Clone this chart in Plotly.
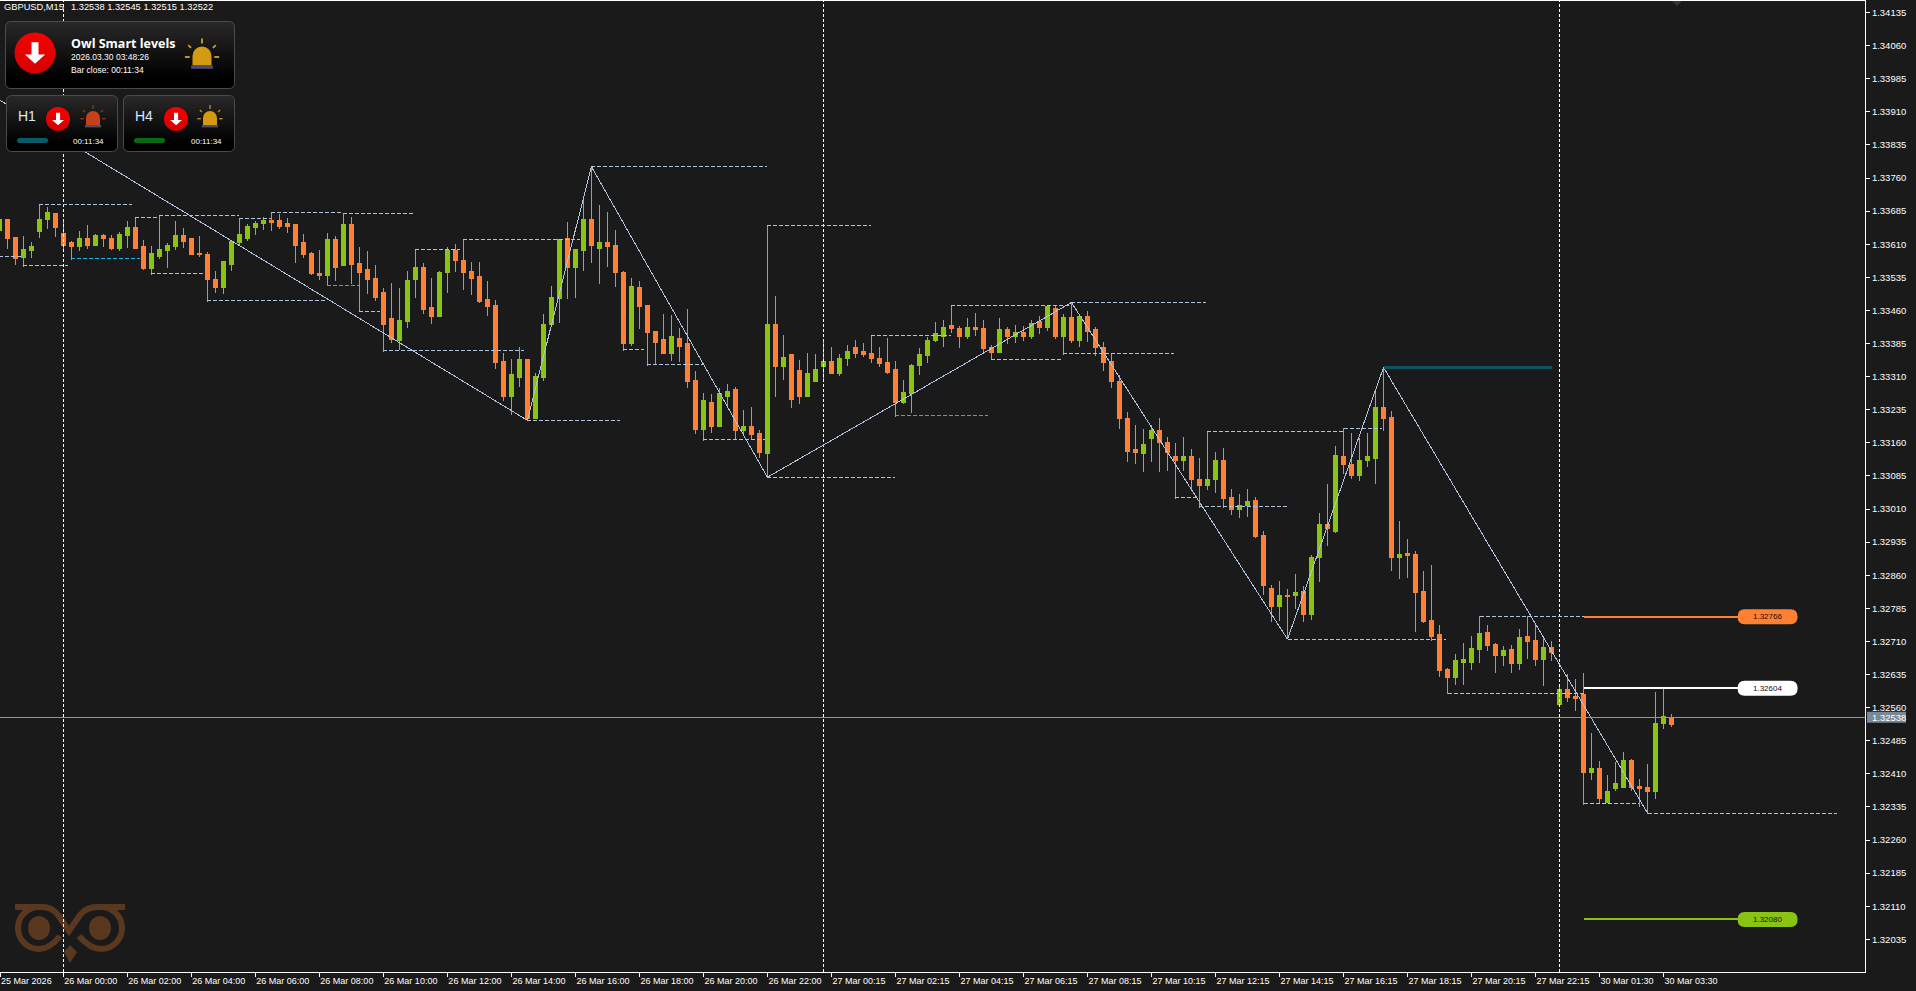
import base64
import plotly.graph_objects as go

BG = "#1A1A1A"
UP = "#8AC413"
DOWN = "#FF8033"
LEVEL = "#B0C4DE"
CYAN = "#1EB4E6"
SANS = "Liberation Sans, Arial"

W, H = 1916, 991
PL, PR, PT, PB = 0, 1865, 1, 972

bar_first = -8
bar_last = 201

opens = [
1.33641,1.33667,1.33626,1.33579,1.33595,1.33638,1.33665,1.33679,1.33635,1.33613,
1.33604,1.33622,1.33608,1.33629,1.33624,1.33601,1.33629,1.33647,1.33604,1.33554,
1.33583,1.33595,1.33604,1.33629,1.33624,1.33588,1.33586,1.33531,1.33513,1.33563,
1.33615,1.33622,1.33647,1.33656,1.33663,1.33663,1.33656,1.33654,1.33613,1.33588,
1.33543,1.33538,1.33620,1.33561,1.33654,1.33567,1.33552,1.33533,1.33500,1.33441,
1.33391,1.33436,1.33531,1.33558,1.33466,1.33447,1.33545,1.33595,1.33574,1.33549,
1.33536,1.33484,1.33472,1.33345,1.33266,1.33309,1.33348,1.33214,1.33309,1.33427,
1.33486,1.33622,1.33558,1.33595,1.33665,1.33601,1.33615,1.33608,1.33545,1.33386,
1.33513,1.33472,1.33413,1.33393,1.33363,1.33397,1.33384,1.33302,1.33191,1.33252,
1.33196,1.33266,1.33280,1.33187,1.33196,1.33180,1.33135,1.33429,1.33334,1.33359,
1.33323,1.33266,1.33300,1.33332,1.33345,1.33316,1.33350,1.33377,1.33366,1.33363,
1.33352,1.33341,1.33325,1.33252,1.33271,1.33336,1.33357,1.33391,1.33402,1.33425,
1.33420,1.33402,1.33422,1.33418,1.33375,1.33364,1.33416,1.33402,1.33409,1.33400,
1.33434,1.33422,1.33465,1.33402,1.33445,1.33391,1.33447,1.33416,1.33377,1.33345,
1.33300,1.33214,1.33144,1.33135,1.33169,1.33187,1.33160,1.33130,1.33119,1.33128,
1.33078,1.33064,1.33078,1.33121,1.33035,1.33010,1.33017,1.33030,1.32949,1.32831,
1.32788,1.32815,1.32815,1.32824,1.32772,1.32899,1.32976,1.32958,1.33130,1.33110,
1.33085,1.33119,1.33125,1.33239,1.33218,1.32901,1.32910,1.32906,1.32822,1.32758,
1.32725,1.32647,1.32629,1.32663,1.32663,1.32691,1.32731,1.32702,1.32679,1.32691,
1.32661,1.32720,1.32713,1.32670,1.32697,1.32568,1.32600,1.32586,1.32589,1.32412,
1.32421,1.32344,1.32376,1.32380,1.32441,1.32382,1.32378,1.32371,1.32523,1.32538,
]
highs = [
1.33665,1.33667,1.33626,1.33629,1.33615,1.33700,1.33694,1.33681,1.33665,1.33617,
1.33640,1.33654,1.33633,1.33633,1.33631,1.33638,1.33663,1.33672,1.33620,1.33606,
1.33676,1.33613,1.33663,1.33647,1.33624,1.33629,1.33592,1.33549,1.33570,1.33620,
1.33669,1.33656,1.33663,1.33672,1.33683,1.33679,1.33669,1.33654,1.33633,1.33592,
1.33597,1.33635,1.33629,1.33681,1.33672,1.33604,1.33595,1.33563,1.33511,1.33522,
1.33511,1.33549,1.33599,1.33567,1.33533,1.33549,1.33604,1.33611,1.33622,1.33570,
1.33570,1.33527,1.33484,1.33363,1.33350,1.33377,1.33350,1.33318,1.33452,1.33515,
1.33620,1.33660,1.33597,1.33710,1.33786,1.33699,1.33683,1.33642,1.33549,1.33533,
1.33527,1.33472,1.33413,1.33452,1.33450,1.33420,1.33463,1.33323,1.33273,1.33271,
1.33284,1.33293,1.33286,1.33234,1.33241,1.33189,1.33653,1.33493,1.33404,1.33359,
1.33348,1.33363,1.33361,1.33395,1.33377,1.33361,1.33382,1.33393,1.33386,1.33404,
1.33377,1.33397,1.33345,1.33302,1.33339,1.33375,1.33400,1.33434,1.33438,1.33472,
1.33425,1.33443,1.33454,1.33438,1.33382,1.33443,1.33422,1.33427,1.33425,1.33438,
1.33447,1.33472,1.33472,1.33452,1.33479,1.33450,1.33459,1.33422,1.33388,1.33363,
1.33314,1.33230,1.33200,1.33191,1.33200,1.33216,1.33173,1.33160,1.33173,1.33146,
1.33126,1.33187,1.33139,1.33148,1.33055,1.33044,1.33055,1.33037,1.32960,1.32838,
1.32847,1.32829,1.32863,1.32836,1.32906,1.33001,1.33067,1.33153,1.33194,1.33182,
1.33171,1.33182,1.33282,1.33332,1.33232,1.32983,1.32942,1.32915,1.32870,1.32883,
1.32747,1.32650,1.32681,1.32706,1.32722,1.32768,1.32747,1.32706,1.32700,1.32702,
1.32738,1.32768,1.32747,1.32718,1.32711,1.32613,1.32636,1.32625,1.32638,1.32503,
1.32439,1.32407,1.32437,1.32459,1.32444,1.32398,1.32432,1.32595,1.32604,1.32545,
]
lows = [
1.33635,1.33599,1.33563,1.33559,1.33579,1.33624,1.33645,1.33626,1.33597,1.33574,
1.33595,1.33599,1.33606,1.33604,1.33597,1.33595,1.33601,1.33599,1.33552,1.33540,
1.33577,1.33556,1.33597,1.33601,1.33586,1.33581,1.33479,1.33500,1.33497,1.33549,
1.33608,1.33617,1.33631,1.33642,1.33640,1.33645,1.33635,1.33567,1.33579,1.33540,
1.33529,1.33515,1.33527,1.33561,1.33520,1.33456,1.33497,1.33481,1.33366,1.33386,
1.33370,1.33420,1.33488,1.33452,1.33429,1.33447,1.33500,1.33547,1.33506,1.33495,
1.33477,1.33447,1.33327,1.33255,1.33223,1.33286,1.33212,1.33214,1.33300,1.33427,
1.33431,1.33486,1.33488,1.33549,1.33567,1.33520,1.33558,1.33513,1.33368,1.33379,
1.33418,1.33334,1.33336,1.33361,1.33345,1.33343,1.33284,1.33180,1.33164,1.33182,
1.33196,1.33243,1.33166,1.33180,1.33166,1.33126,1.33080,1.33264,1.33302,1.33239,
1.33248,1.33266,1.33298,1.33298,1.33316,1.33311,1.33334,1.33352,1.33354,1.33341,
1.33332,1.33316,1.33218,1.33248,1.33228,1.33314,1.33341,1.33388,1.33377,1.33409,
1.33375,1.33395,1.33402,1.33361,1.33348,1.33364,1.33384,1.33386,1.33391,1.33395,
1.33406,1.33413,1.33395,1.33359,1.33386,1.33377,1.33388,1.33357,1.33323,1.33284,
1.33191,1.33116,1.33112,1.33094,1.33116,1.33094,1.33096,1.33033,1.33096,1.33055,
1.33012,1.33053,1.33046,1.33012,1.32996,1.32990,1.32992,1.32944,1.32815,1.32754,
1.32756,1.32715,1.32783,1.32754,1.32758,1.32845,1.32926,1.32956,1.33089,1.33078,
1.33073,1.33105,1.33067,1.33187,1.32870,1.32851,1.32854,1.32731,1.32752,1.32711,
1.32629,1.32591,1.32611,1.32611,1.32645,1.32661,1.32688,1.32638,1.32654,1.32638,
1.32645,1.32670,1.32654,1.32609,1.32666,1.32564,1.32573,1.32552,1.32339,1.32396,
1.32342,1.32344,1.32371,1.32380,1.32371,1.32335,1.32319,1.32353,1.32512,1.32515,
]
closes = [
1.33665,1.33623,1.33577,1.33599,1.33604,1.33667,1.33681,1.33647,1.33608,1.33604,
1.33624,1.33606,1.33629,1.33622,1.33601,1.33631,1.33647,1.33601,1.33556,1.33590,
1.33597,1.33608,1.33629,1.33617,1.33586,1.33586,1.33529,1.33511,1.33570,1.33617,
1.33633,1.33651,1.33658,1.33663,1.33660,1.33651,1.33651,1.33608,1.33586,1.33543,
1.33538,1.33620,1.33558,1.33654,1.33565,1.33547,1.33531,1.33490,1.33429,1.33393,
1.33438,1.33527,1.33558,1.33463,1.33447,1.33547,1.33595,1.33572,1.33545,1.33533,
1.33481,1.33470,1.33343,1.33266,1.33314,1.33348,1.33214,1.33311,1.33429,1.33490,
1.33620,1.33558,1.33597,1.33665,1.33606,1.33613,1.33604,1.33547,1.33386,1.33515,
1.33470,1.33411,1.33388,1.33363,1.33402,1.33379,1.33300,1.33191,1.33255,1.33196,
1.33271,1.33277,1.33187,1.33196,1.33178,1.33137,1.33429,1.33334,1.33354,1.33259,
1.33266,1.33316,1.33327,1.33345,1.33316,1.33352,1.33368,1.33363,1.33361,1.33350,
1.33339,1.33320,1.33252,1.33275,1.33336,1.33359,1.33391,1.33407,1.33422,1.33418,
1.33402,1.33422,1.33416,1.33373,1.33364,1.33416,1.33402,1.33409,1.33400,1.33431,
1.33422,1.33468,1.33402,1.33445,1.33391,1.33447,1.33413,1.33377,1.33343,1.33298,
1.33214,1.33141,1.33137,1.33157,1.33187,1.33160,1.33137,1.33119,1.33130,1.33076,
1.33064,1.33078,1.33121,1.33033,1.33010,1.33019,1.33028,1.32947,1.32836,1.32788,
1.32815,1.32811,1.32820,1.32772,1.32901,1.32976,1.32965,1.33132,1.33110,1.33087,
1.33121,1.33128,1.33239,1.33216,1.32901,1.32908,1.32904,1.32820,1.32756,1.32722,
1.32645,1.32629,1.32666,1.32668,1.32693,1.32729,1.32700,1.32679,1.32690,1.32661,
1.32718,1.32709,1.32670,1.32697,1.32686,1.32600,1.32584,1.32580,1.32412,1.32421,
1.32353,1.32369,1.32387,1.32441,1.32378,1.32376,1.32369,1.32525,1.32539,1.32522,
]

# zigzag pivots
zig_bars = [-8, 58, 66, 88, 126, 153, 165, 198]
zig_prices = [1.33937, 1.33211, 1.33786, 1.33082, 1.33478, 1.32715, 1.33331, 1.32321]

# dashed levels: price, first bar, last bar
lvl_prices = [1.33700,1.33583,1.33562,1.33671,1.33675,1.33544,1.33669,1.33682,1.33680,1.33483,
              1.33458,1.33370,1.33598,1.33621,1.33786,1.33211,1.33372,1.33338,1.33168,1.33653,
              1.33082,1.33404,1.33472,1.33478,1.33349,1.33363,1.33186,1.33193,1.33037,1.33016,
              1.32715,1.32767,1.32592,1.32343,1.32321]
lvl_starts = [-3,-8,-5,9,12,11,22,26,35,18,37,40,44,50,66,58,70,73,80,88,88,101,111,126,116,125,143,160,139,142,
              153,177,173,190,198]
lvl_ends = [8.6,-5,0.6,12,22,17.5,26,35,43.7,32.7,39.6,57.6,49.6,64.6,88,69.6,72.6,80,87.7,101,104,111,126,142.8,
            124.7,138.8,160,164.8,142,152.9,172.8,190,190,196.9,221.7]
cyan_prices = [1.33578, 1.33517, 1.33222]
cyan_starts = [1, 33, 104]
cyan_ends = [9.6, 37, 115.6]

sep_bars = [0, 95, 187]

teal_level = 1.33331
teal_span = [165, 186.1]
smart_values = [1.32766, 1.32604, 1.32080]
smart_colors = [DOWN, "#FFFFFF", UP]
smart_texts = ["1.32766", "1.32604", "1.32080"]
smart_start = 190
pill_center = 213

price_now = 1.32538

y_ticks = [1.34135,1.34060,1.33985,1.33910,1.33835,1.33760,1.33685,1.33610,1.33535,1.33460,
           1.33385,1.33310,1.33235,1.33160,1.33085,1.33010,1.32935,1.32860,1.32785,1.32710,
           1.32635,1.32560,1.32485,1.32410,1.32335,1.32260,1.32185,1.32110,1.32035]
y_labels = ["%.5f" % v for v in y_ticks]

x_tick_bars = [-7.9,0,8,16,24,32,40,48,56,64,72,80,88,96,104,112,120,128,136,144,152,160,168,176,184,192,200]
x_tick_labels = ["25 Mar 2026","26 Mar 00:00","26 Mar 02:00","26 Mar 04:00","26 Mar 06:00","26 Mar 08:00",
                 "26 Mar 10:00","26 Mar 12:00","26 Mar 14:00","26 Mar 16:00","26 Mar 18:00","26 Mar 20:00",
                 "26 Mar 22:00","27 Mar 00:15","27 Mar 02:15","27 Mar 04:15","27 Mar 06:15","27 Mar 08:15",
                 "27 Mar 10:15","27 Mar 12:15","27 Mar 14:15","27 Mar 16:15","27 Mar 18:15","27 Mar 20:15",
                 "27 Mar 22:15","30 Mar 01:30","30 Mar 03:30"]

X_RANGE = [-7.9125, 225.175]
Y_RANGE = [1.319609, 1.341611]

bars = list(range(bar_first, bar_last + 1))


def dashed_xy(prices, starts, ends):
    xs, ys = [], []
    for p, a, b in zip(prices, starts, ends):
        xs += [a, b, None]
        ys += [p, p, None]
    return xs, ys


fig = go.Figure()

# session separators under the candles
for b in sep_bars:
    fig.add_trace(go.Scatter(x=[b, b], y=Y_RANGE, mode="lines",
                             line=dict(color="#FFFFFF", width=1, dash="3px,2px"), hoverinfo="skip"))

fig.add_trace(go.Candlestick(
    x=bars, open=opens, high=highs, low=lows, close=closes, whiskerwidth=0,
    increasing=dict(line=dict(color=UP, width=1), fillcolor=UP),
    decreasing=dict(line=dict(color=DOWN, width=1), fillcolor=DOWN),
    hoverinfo="skip"))

lx, ly = dashed_xy(lvl_prices, lvl_starts, lvl_ends)
fig.add_trace(go.Scatter(x=lx, y=ly, mode="lines", line=dict(color=LEVEL, width=1, dash="4px,2px"), hoverinfo="skip"))
cx, cy = dashed_xy(cyan_prices, cyan_starts, cyan_ends)
fig.add_trace(go.Scatter(x=cx, y=cy, mode="lines", line=dict(color=CYAN, width=1, dash="4px,2px"), hoverinfo="skip"))
fig.add_trace(go.Scatter(x=zig_bars, y=zig_prices, mode="lines", line=dict(color=LEVEL, width=1), hoverinfo="skip"))
fig.add_trace(go.Scatter(x=teal_span, y=[teal_level, teal_level], mode="lines",
                         line=dict(color="#0A5560", width=3), hoverinfo="skip"))
fig.add_trace(go.Scatter(x=X_RANGE, y=[price_now, price_now], mode="lines",
                         line=dict(color="#8A97A6", width=1), hoverinfo="skip"))

shapes, annotations = [], []


def px(x):
    return (x - PL) / (PR - PL)


def py(y):
    return 1 - (y - PT) / (PB - PT)


def label(text, x, y, size=9, color="#FFFFFF", family=SANS, anchor="left", bold=False):
    annotations.append(dict(xref="paper", yref="paper", x=px(x), y=py(y), text=("<b>%s</b>" % text) if bold else text,
                            showarrow=False, xanchor=anchor, yanchor="middle", borderpad=0, borderwidth=0,
                            font=dict(size=size, color=color, family=family)))


pill_path = "M -23 -7.5 L 23 -7.5 Q 30 -7.5 30 0 Q 30 7.5 23 7.5 L -23 7.5 Q -30 7.5 -30 0 Q -30 -7.5 -23 -7.5 Z"
for v, col, txt in zip(smart_values, smart_colors, smart_texts):
    fig.add_trace(go.Scatter(x=[smart_start, pill_center], y=[v, v], mode="lines",
                             line=dict(color=col, width=2), hoverinfo="skip"))
    shapes.append(dict(type="path", xref="x", yref="y", xsizemode="pixel", ysizemode="pixel",
                       xanchor=pill_center, yanchor=v, path=pill_path, fillcolor=col,
                       line=dict(width=0), layer="above"))
    annotations.append(dict(xref="x", yref="y", x=pill_center, y=v, text=txt, showarrow=False,
                            font=dict(size=8, color="#111111", family=SANS)))

# current price box on the axis
shapes.append(dict(type="rect", xref="paper", x0=px(1867), x1=px(1906), yref="y", ysizemode="pixel",
                   yanchor=price_now, y0=-5.5, y1=5.5, fillcolor="#778899", line=dict(width=0), layer="above"))
annotations.append(dict(xref="paper", yref="y", x=px(1870.5), y=price_now, text="%.5f" % price_now, showarrow=False,
                        xanchor="left", font=dict(size=9.5, color="#FFFFFF", family=SANS)))


def bell(cx, cy, s, dome, ray):
    """cx,cy = dome centre, s = half width of the dome"""
    rays = ""
    for x1, y1, x2, y2 in [(0, -1.85, 0, -1.3), (-1.45, -1.15, -1.15, -0.85), (1.45, -1.15, 1.15, -0.85),
                           (-1.8, 0.1, -1.3, 0.1), (1.8, 0.1, 1.3, 0.1)]:
        rays += '<line x1="%.1f" y1="%.1f" x2="%.1f" y2="%.1f" stroke="%s" stroke-width="%.1f"/>' % (
            cx + x1 * s, cy + y1 * s, cx + x2 * s, cy + y2 * s, ray, s * 0.2)
    dome_path = '<path d="M%.1f %.1f V%.1f A%.1f %.1f 0 0 1 %.1f %.1f V%.1f Z" fill="%s"/>' % (
        cx - s, cy + s, cy, s, s, cx + s, cy, cy + s, dome)
    base = '<rect x="%.1f" y="%.1f" width="%.1f" height="%.1f" fill="#4C4C72"/>' % (cx - 1.15 * s, cy + s, 2.3 * s, 0.35 * s)
    return rays + dome_path + base


def arrow(cx, cy, r):
    red = '<circle cx="%.1f" cy="%.1f" r="%.1f" fill="url(#red)"/>' % (cx, cy, r)
    a = r * 0.34
    shape = '<path d="M%.1f %.1f h%.1f v%.1f h%.1f L%.1f %.1f L%.1f %.1f h%.1f Z" fill="#FFFFFF"/>' % (
        cx - a * 0.5, cy - r * 0.52, a, r * 0.6, a * 0.95, cx, cy + r * 0.52, cx - a * 1.45, cy + r * 0.08, a * 0.95)
    return red + shape


def panel(x0, y0, x1, y1):
    return ('<rect x="%s" y="%s" width="%s" height="%s" rx="5" fill="url(#pan)" stroke="#4A4A4A" stroke-width="1"/>'
            % (x0, y0, x1 - x0, y1 - y0))


defs = ('<defs><linearGradient id="pan" x1="0" y1="0" x2="0" y2="1"><stop offset="0" stop-color="#2A2828"/>'
        '<stop offset="0.85" stop-color="#000000"/><stop offset="1" stop-color="#000000"/></linearGradient>'
        '<linearGradient id="red" x1="0" y1="0" x2="0" y2="1"><stop offset="0" stop-color="#F80000"/>'
        '<stop offset="1" stop-color="#D40000"/></linearGradient></defs>')

dash_svg = ('<svg xmlns="http://www.w3.org/2000/svg" width="%d" height="%d" viewBox="0 %d %d %d">' % (PR, PB - PT, PT, PR, PB - PT)
            + defs
            + panel(5.5, 21.5, 234.5, 88.5) + arrow(35, 53, 20.5) + bell(202, 56, 9.5, "#D49A10", "#C8A020")
            + panel(6.5, 95.5, 117.5, 151.5) + arrow(58, 119, 12) + bell(93, 118, 7, "#C8401A", "#8A3418")
            + '<rect x="17" y="138" width="31" height="5" rx="2.5" fill="#0A5A6A"/>'
            + panel(123.5, 95.5, 234.5, 151.5) + arrow(176, 119, 12) + bell(210, 118, 7, "#D49A10", "#B88A18")
            + '<rect x="134" y="138" width="31" height="5" rx="2.5" fill="#0A6A14"/>'
            + '</svg>')

OWL = "#5A3820"
owl_svg = ('<svg xmlns="http://www.w3.org/2000/svg" width="%d" height="%d" viewBox="0 %d %d %d">' % (PR, PB - PT, PT, PR, PB - PT)
           + '<g fill="none" stroke="%s" stroke-width="6">' % OWL
           + '<path d="M15 907 H42 Q52 907 58 915 L69 931 L80 915 Q86 907 98 907 H125"/>'
           + '<path d="M39 907 A21 21 0 0 0 39 949 Q50 949 60 936"/>'
           + '<path d="M101 907 A21 21 0 0 1 101 949 Q90 949 79 936"/></g>'
           + '<ellipse cx="39" cy="928" rx="11" ry="12" fill="%s"/>' % OWL
           + '<ellipse cx="100" cy="928" rx="11" ry="12" fill="%s"/>' % OWL
           + '<path d="M70 945 L77 952 L70 963 L64 952 Z" fill="%s"/>' % OWL
           + '<path d="M1672 1 H1682 L1677 6 Z" fill="#2A3A44"/>'
           + '</svg>')


def uri(svg):
    return "data:image/svg+xml;base64," + base64.b64encode(svg.encode()).decode()


images = [
    dict(source=uri(owl_svg), xref="paper", yref="paper", x=0, y=1, sizex=1, sizey=1, xanchor="left", yanchor="top",
         sizing="stretch", layer="below"),
    dict(source=uri(dash_svg), xref="paper", yref="paper", x=0, y=1, sizex=1, sizey=1, xanchor="left", yanchor="top",
         sizing="stretch", layer="above"),
]

label("GBPUSD,M15", 4, 7, size=9.3)
label("1.32538 1.32545 1.32515 1.32522", 70.5, 7, size=9.3)
label("Owl Smart levels", 70.5, 43.5, size=12.5, family="Open Sans", bold=True)
label("2026.03.30 03:48:26", 70.5, 57, size=8.5)
label("Bar close: 00:11:34", 70.5, 70, size=8.5)
label("H1", 18, 116, size=14, color="#DCE9F7")
label("H4", 135, 116, size=14, color="#DCE9F7")
label("00:11:34", 73, 141.5, size=8)
label("00:11:34", 191, 141.5, size=8)

fig.update_layout(
    width=W, height=H, margin=dict(l=PL, r=W - PR, t=PT, b=H - PB, pad=0),
    paper_bgcolor=BG, plot_bgcolor=BG, showlegend=False, boxgap=0.5, boxgroupgap=0, hovermode=False,
    shapes=shapes, annotations=annotations, images=images,
    xaxis=dict(range=X_RANGE, tickmode="array", tickvals=x_tick_bars, ticktext=x_tick_labels, ticks="outside",
               ticklen=4, tickcolor="#FFFFFF", tickwidth=1, showgrid=False, zeroline=False, showline=True,
               linecolor="#FFFFFF", linewidth=1, mirror=True, rangeslider=dict(visible=False),
               ticklabelposition="outside right", tickangle=0,
               tickfont=dict(size=9, color="#FFFFFF", family=SANS)),
    yaxis=dict(range=Y_RANGE, side="right", tickmode="array", tickvals=y_ticks, ticktext=y_labels, ticks="outside",
               ticklen=4, tickcolor="#FFFFFF", tickwidth=1, showgrid=False, zeroline=False, showline=True,
               linecolor="#FFFFFF", linewidth=1, tickfont=dict(size=9.5, color="#FFFFFF", family=SANS)),
)

page_script = (
    "document.body.style.margin='0';document.body.style.background='%s';"
    "document.documentElement.style.overflow='hidden';"
    "var s=document.createElement('style');"
    "s.textContent='.scatterlayer .js-line,.boxlayer path{shape-rendering:crispEdges !important}';"
    "document.head.appendChild(s);" % BG
)
fig.write_html("out.html", config=dict(displayModeBar=False), post_script=page_script)
